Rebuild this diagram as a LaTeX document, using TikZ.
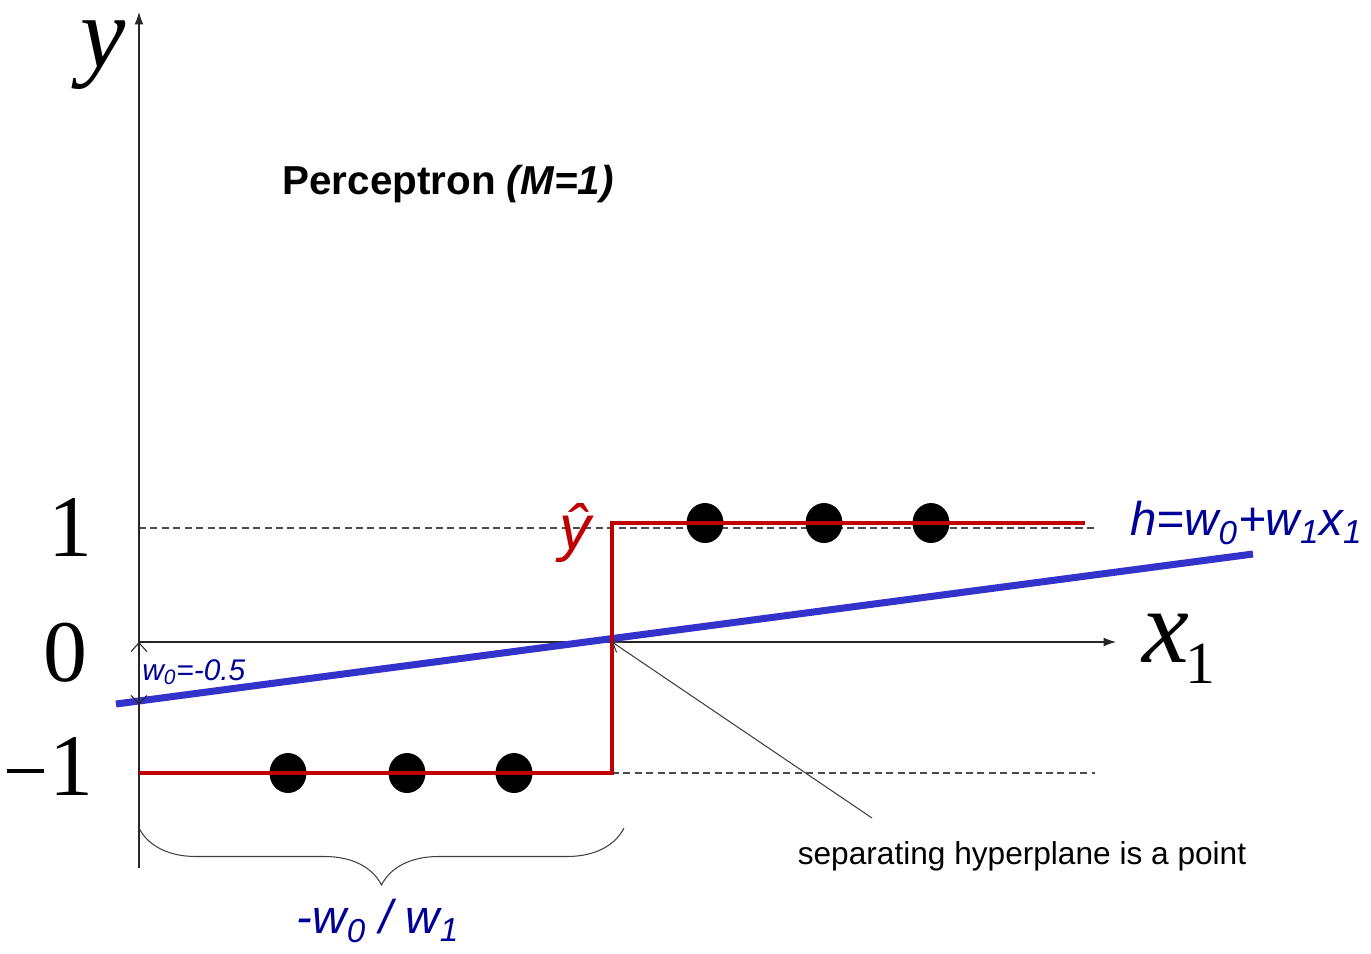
\documentclass[tikz,border=0pt]{standalone}
\usepackage{fontspec}
\setmainfont{Liberation Serif}
\newfontfamily\arialf{Liberation Sans}
\usetikzlibrary{arrows.meta,decorations.pathreplacing,shapes.geometric}
\definecolor{stepred}{RGB}{192,0,0}
\definecolor{lineblue}{RGB}{51,51,204}
\definecolor{textblue}{RGB}{0,0,153}
\tikzset{
  axis/.style={draw=black!85, line width=0.6pt, -{Latex[length=7pt,width=5pt]}},
  guide/.style={draw=black!70, line width=0.7pt, dash pattern=on 4pt off 2.5pt},
  stepline/.style={draw=stepred, line width=2.3pt},
  hline/.style={draw=lineblue, line width=4pt},
  dot/.style={ellipse, fill=black, minimum width=0.74cm, minimum height=0.8cm, inner sep=0pt},
  bigmath/.style={font=\fontsize{60}{60}\selectfont\itshape, inner sep=0pt},
  digit/.style={font=\fontsize{50}{50}\selectfont, inner sep=0pt},
  bluelabel/.style={text=textblue, font=\arialf\itshape\fontsize{27}{27}\selectfont, inner sep=0pt},
}
\begin{document}
\begin{tikzpicture}[x=0.02cm,y=-0.02cm]
\useasboundingbox (0,0) rectangle (1371,953);
% coordinates
\coordinate (O) at (139,642);
\coordinate (ytop) at (139,12);
\coordinate (ybot) at (139,868);
\coordinate (xend) at (1116,642);
\coordinate (g1a) at (139,528);
\coordinate (g1b) at (1095,528);
\coordinate (gma) at (612,773);
\coordinate (gmb) at (1095,773);
\coordinate (s0) at (139,773);
\coordinate (s1) at (612,773);
\coordinate (s2) at (612,523);
\coordinate (s3) at (1085,523);
\coordinate (ha) at (116,704);
\coordinate (hb) at (1253,554);
\coordinate (wtop) at (139,642);
\coordinate (wbot) at (139,705);
\coordinate (cross) at (612,642);
\coordinate (annot) at (872,818);
\coordinate (bl) at (139,828);
\coordinate (br) at (624,828);

% guides
\draw[guide] (g1a) -- (g1b);
\draw[guide] (gma) -- (gmb);

% axes
\draw[axis] (ybot) -- (ytop);
\draw[axis] (O) -- (xend);

% blue line
\draw[hline] (ha) -- (hb);

% step
\draw[stepline] (s0) -- (s1) -- (s2) -- (s3);

% dots
\node[dot] (d1) at (288,773) {};
\node[dot] (d2) at (407,773) {};
\node[dot] (d3) at (514,773) {};
\node[dot] (d4) at (705,523) {};
\node[dot] (d5) at (824,523) {};
\node[dot] (d6) at (931,523) {};
\draw[stepline] (s0) -- (s1);
\draw[stepline] (s2) -- (s3);

% w0 arrow
\draw[black!85, line width=0.6pt, {Straight Barb[length=5pt,width=9pt]}-{Straight Barb[length=5pt,width=9pt]}] (wtop) -- (wbot);

% annotation
\draw[black!75, line width=0.6pt, -{Straight Barb[length=5pt,width=7pt]}] (annot) -- (cross);

% brace
\draw[black!75, line width=0.6pt, decorate, decoration={brace, mirror, amplitude=1.14cm}] (bl) -- (br);

% labels
\node[bigmath, anchor=base, font=\fontsize{58}{58}\selectfont\itshape] (ylab) at (103,68) {y};
\node[bigmath, anchor=base west] (xlab) at (1142,662) {x\raisebox{0pt}[0pt][0pt]{\kern-2pt\lower 0.42cm\hbox{\upshape\fontsize{34}{34}\selectfont 1}}};
\node[digit] (one) at (70,527) {1};
\node[digit] (zero) at (65,653) {0};
\node[digit, anchor=base east] (mone) at (94,795) {\rule[0.25em]{0.43em}{0.05em}\kern0.06em 1};
\node[font=\arialf\bfseries\fontsize{23}{23}\selectfont, inner sep=0pt] (title) at (448,184) {Perceptron \itshape (M=1)};
\node[bluelabel, anchor=west] (hlab) at (1130,523) {h=w\textsubscript{0}+w\textsubscript{1}x\textsubscript{1}};
\node[text=textblue, font=\arialf\itshape\fontsize{17}{17}\selectfont, inner sep=0pt, anchor=west] (wlab) at (142,672) {w\textsubscript{0}=-0.5};
\node[bluelabel] (frac) at (378,921) {-w\textsubscript{0} / w\textsubscript{1}};
\node[text=stepred, font=\arialf\itshape\fontsize{36}{36}\selectfont, inner sep=0pt] (yhat) at (575,533) {\^{y}};
\node[font=\arialf\fontsize{18}{18}\selectfont, inner sep=0pt] (sep) at (1022,856) {separating hyperplane is a point};
\end{tikzpicture}
\end{document}
